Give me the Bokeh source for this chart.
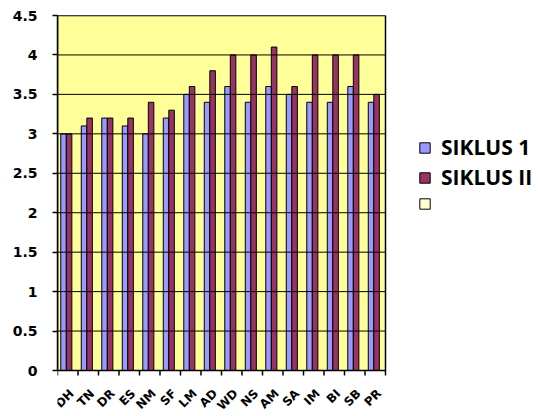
from math import pi

from bokeh.core.properties import value
from bokeh.embed import file_html
from bokeh.models import (ColumnDataSource, FixedTicker, Legend, LegendItem,
                          Range1d)
from bokeh.plotting import figure
from bokeh.resources import INLINE

# Students and their scores in the two cycles
students = ["DH", "TN", "DR", "ES", "NM", "SF", "LM", "AD",
            "WD", "NS", "AM", "SA", "IM", "BI", "SB", "PR"]
siklus_1 = [3.0, 3.1, 3.2, 3.1, 3.0, 3.2, 3.5, 3.4,
            3.6, 3.4, 3.6, 3.5, 3.4, 3.4, 3.6, 3.4]
siklus_2 = [3.0, 3.2, 3.2, 3.2, 3.4, 3.3, 3.6, 3.8,
            4.0, 4.0, 4.1, 3.6, 4.0, 4.0, 4.0, 3.5]
y_ticks = [0, 0.5, 1, 1.5, 2, 2.5, 3, 3.5, 4, 4.5]
series_names = ["SIKLUS 1", "SIKLUS II", " "]

BLUE = "#9999FF"
PLUM = "#993366"
PALE = "#FFFFCC"
PLOT_BG = "#FFFF99"

n = len(students)
y_max = y_ticks[-1]
centers = [i + 0.5 for i in range(n)]
bounds_x = list(range(n + 1))
shift = -0.07
bar_w = 0.27

# pixel geometry of the figure
W, H = 538, 416
left, top = 57, 15
plot_right, plot_bottom = 385, 370
px_x = (plot_right - left) / n            # pixels per category
px_y = (plot_bottom - top) / y_max        # pixels per unit
x_hi = (W - left) / px_x
y_lo = -(H - plot_bottom) / px_y
tick_len = 5 / px_y

src = ColumnDataSource(dict(
    x1=[c + shift - bar_w / 2 for c in centers],
    x2=[c + shift + bar_w / 2 for c in centers],
    s1=siklus_1,
    s2=siklus_2,
))

p = figure(width=W, height=H, output_backend="svg", toolbar_location=None,
           x_range=Range1d(0, x_hi), y_range=Range1d(y_lo, y_max),
           x_axis_location=None,
           min_border_left=left, min_border_right=0,
           min_border_top=top, min_border_bottom=0,
           background_fill_color="white", border_fill_color="white")
p.outline_line_color = None
p.grid.visible = False

# plot area
p.quad(left=[0], right=[n], bottom=[0], top=[y_max],
       fill_color=PLOT_BG, line_color=None)

r1 = p.vbar(x="x1", top="s1", width=bar_w, source=src,
            fill_color=BLUE, line_color="black", line_width=1)
r2 = p.vbar(x="x2", top="s2", width=bar_w, source=src,
            fill_color=PLUM, line_color="black", line_width=1)
# third, empty series: kept off screen, shown in the legend only
r3 = p.vbar(x=[-100], top=[1], width=bar_w, fill_color=PALE,
            line_color="black", line_width=1)

# horizontal gridlines drawn over the bars
p.segment(x0=[0] * len(y_ticks), x1=[n] * len(y_ticks),
          y0=y_ticks, y1=y_ticks, line_color="black", line_width=1)

# plot area border
p.quad(left=[0], right=[n], bottom=[0], top=[y_max],
       fill_color=None, line_color="black", line_width=1.5)

# category axis: boundary ticks and rotated labels
p.segment(x0=bounds_x, x1=bounds_x, y0=[0] * len(bounds_x),
          y1=[-tick_len] * len(bounds_x), line_color="black", line_width=1.5)
p.text(x=centers, y=[0] * n, text=students, angle=pi / 4,
       text_align="right", text_baseline="middle",
       x_offset=4, y_offset=21,
       text_font=value("DejaVu Sans"), text_font_style="bold",
       text_font_size="12px", text_color="black")

# y axis
ya = p.yaxis[0]
ya.bounds = (0, y_max)
ya.ticker = FixedTicker(ticks=y_ticks)
ya.major_label_overrides = {t: ("%g" % t) for t in y_ticks}
ya.axis_line_color = "black"
ya.axis_line_width = 1.5
ya.major_tick_line_color = "black"
ya.major_tick_line_width = 1.5
ya.major_tick_in = 0
ya.major_tick_out = 5
ya.minor_tick_line_color = None
ya.major_label_standoff = 15
ya.major_label_text_font = "DejaVu Sans"
ya.major_label_text_font_style = "bold"
ya.major_label_text_font_size = "14px"
ya.major_label_text_color = "black"

legend = Legend(
    items=[LegendItem(label=nm, renderers=[r])
           for nm, r in zip(series_names, (r1, r2, r3))],
    location=(361, 203),
    orientation="vertical",
    glyph_width=13, glyph_height=13,
    label_text_font="Open Sans",
    label_text_font_style="bold",
    label_text_font_size="21px",
    label_text_color="black",
    label_standoff=10,
    label_height=20,
    spacing=2,
    padding=0, margin=0,
    border_line_color=None,
    background_fill_alpha=0,
)
p.add_layout(legend, "center")

open("out.html", "w").write(file_html(p, INLINE))
